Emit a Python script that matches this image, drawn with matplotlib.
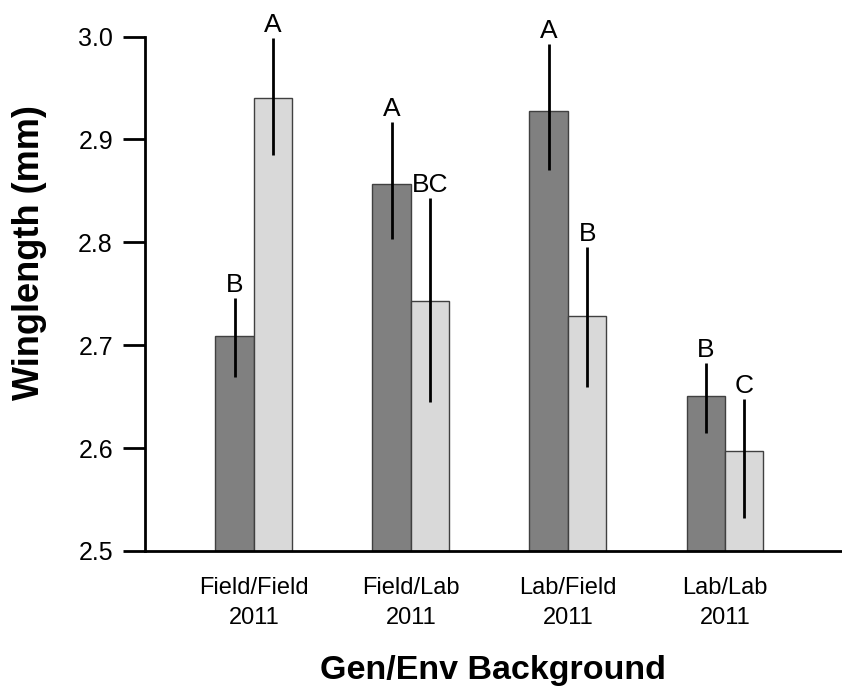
import matplotlib
matplotlib.use("Agg")
import matplotlib.pyplot as plt
import numpy as np

plt.rcParams['font.family'] = ['Liberation Sans', 'DejaVu Sans']

# data
groups = ["Field/Field\n2011", "Field/Lab\n2011", "Lab/Field\n2011", "Lab/Lab\n2011"]
dark_mean = [2.709, 2.857, 2.928, 2.651]
dark_low = [2.669, 2.803, 2.870, 2.615]
dark_high = [2.746, 2.917, 2.993, 2.683]
dark_letters = ["B", "A", "A", "B"]

light_mean = [2.940, 2.743, 2.728, 2.597]
light_low = [2.885, 2.645, 2.659, 2.532]
light_high = [2.999, 2.843, 2.795, 2.648]
light_letters = ["A", "BC", "B", "C"]

x = np.arange(len(groups))
w = 0.245

fig = plt.figure(figsize=(8.42, 6.89), dpi=100)
ax = fig.add_axes([0.172, 0.2003, 0.828, 0.7467])

for off, mean, low, high, col, letters in [
        (-w / 2, dark_mean, dark_low, dark_high, "#808080", dark_letters),
        (w / 2, light_mean, light_low, light_high, "#d9d9d9", light_letters)]:
    mean = np.array(mean)
    yerr = [mean - np.array(low), np.array(high) - mean]
    ax.bar(x + off, mean - 2.5, w, bottom=2.5, color=col, edgecolor="#404040",
           linewidth=1, zorder=2)
    ax.errorbar(x + off, mean, yerr=yerr, fmt="none", ecolor="black",
                elinewidth=2, capsize=0, zorder=3)
    for xi, hi, lab in zip(x + off, high, letters):
        ax.text(xi, hi + 0.001, lab, ha="center", va="bottom", fontsize=19)

ax.set_ylim(2.5, 3.0)
ax.set_xlim(-0.694, 3.745)
ax.set_yticks(np.arange(2.5, 3.01, 0.1))
ax.set_yticklabels(["2.5", "2.6", "2.7", "2.8", "2.9", "3.0"])
ax.set_xticks(x)
ax.set_xticklabels(groups, fontsize=17, linespacing=1.45)

ax.spines["top"].set_visible(False)
ax.spines["right"].set_visible(False)
ax.spines["left"].set_linewidth(2)
ax.spines["bottom"].set_linewidth(2)
ax.tick_params(axis="y", direction="out", length=16, width=2, labelsize=18, pad=7)
ax.tick_params(axis="x", length=0, pad=19)

ax.set_ylabel("Winglength (mm)", fontsize=26, fontweight="bold", labelpad=22, y=0.58)
ax.set_xlabel("Gen/Env Background", fontsize=24.5, fontweight="bold", labelpad=19)

fig.savefig("out.png", dpi=100)
